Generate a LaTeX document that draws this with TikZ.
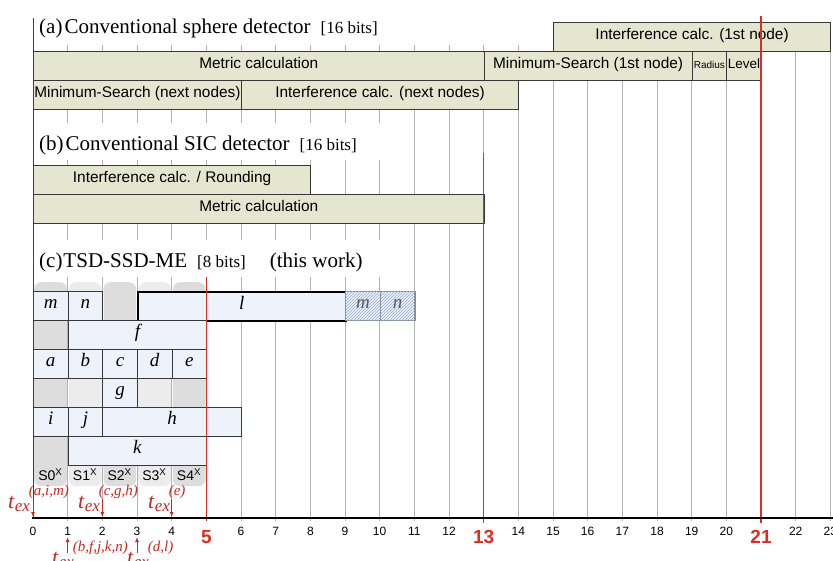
\documentclass[tikz,border=0pt]{standalone}
\usepackage{fontspec}
\setmainfont{Liberation Serif}
\setsansfont{Liberation Sans}
\usetikzlibrary{patterns,arrows.meta}

\definecolor{olivefill}{RGB}{228,230,208}
\definecolor{bluefill}{RGB}{238,242,251}
\definecolor{boxline}{RGB}{55,55,55}
\definecolor{gridgray}{RGB}{178,178,178}
\definecolor{markred}{RGB}{222,45,35}
\definecolor{texred}{RGB}{196,42,38}
\definecolor{coldark}{RGB}{221,221,221}
\definecolor{collight}{RGB}{236,236,236}
\definecolor{hatchblue}{RGB}{150,172,205}
\definecolor{hatchline}{RGB}{140,140,140}

\newcommand{\fsz}[1]{\fontsize{#1}{#1}\selectfont}
% one stage of a schedule: name, style, start, end (time units), top, height, label
\newcommand{\slot}[7]{%
  \node[#2, minimum width={(#4-(#3))*34.6667pt}, minimum height=#6pt,
        anchor=north west] (#1) at ({33+(#3)*34.6667},#5) {#7};}
\newcommand{\texlabel}[1]{\textit{t}\raisebox{-3.5pt}{\fsz{17}\textit{ex}}\hspace{-1pt}\raisebox{12.5pt}{\fsz{15}\textit{(#1)}}}

\begin{document}
\begin{tikzpicture}[x=1pt,y=-1pt,
  stage/.style={draw=boxline, line width=0.8pt, inner sep=0pt,
                text height=1.5ex, text depth=0.3ex},
  olive/.style={stage, fill=olivefill, font=\sffamily\fsz{15.4}},
  tsd/.style={stage, fill=bluefill, font=\itshape\fsz{19}},
  hatched/.style={tsd, draw=hatchline, line width=1.4pt,
                  postaction={pattern=north east lines, pattern color=hatchblue},
                  text=black!65},
  gridline/.style={draw=gridgray, line width=0.8pt},
  redline/.style={draw=markred, line width=1.1pt},
  colbg/.style={draw=none, rounded corners=7pt, inner sep=0pt,
                minimum width=32.7pt, minimum height=204pt},
  texarrow/.style={draw=texred, line width=0.9pt, -{Latex[length=5pt,width=4pt]}},
  texmark/.style={anchor=base west, inner sep=0pt, text=texred, font=\fsz{22}},
  title/.style={anchor=base west, inner sep=0pt, font=\fsz{21}}
]
\useasboundingbox (0,0) rectangle (833,560);
\fill[white] (0,0) rectangle (833,560);

% time grid
\foreach \i in {1,...,23}
  \draw[gridline] ({33+\i*34.6667},45) -- ({33+\i*34.6667},521);

% clear space behind the section titles
\fill[white] (34.5,123) rectangle (404,160);
\fill[white] (34.5,240) rectangle (404,277);

% (a) conventional sphere detector
\node[title] (ta) at (39,33)
  {(a)\hspace{2pt}Conventional sphere detector\hspace{10pt}{\fsz{17}[16 bits]}};
\slot{icf}{olive}{15}{23}{22}{29}{Interference calc. (1st node)}
\slot{mca}{olive}{0}{13}{51}{29}{Metric calculation}
\slot{msf}{olive}{13}{19}{51}{29}{Minimum-Search (1st node)}
\slot{rad}{olive, font=\sffamily\fsz{10}}{19}{20}{51}{29}{Radius}
\slot{lev}{olive, font=\sffamily\fsz{13.5}}{20}{21}{51}{29}{Level}
\slot{msn}{olive}{0}{6}{80}{29}{Minimum-Search (next nodes)}
\slot{icn}{olive}{6}{14}{80}{29}{Interference calc. (next nodes)}

% (b) conventional SIC detector
\node[title] (tb) at (39,150)
  {(b)\hspace{2pt}Conventional SIC detector\hspace{10pt}{\fsz{17}[16 bits]}};
\slot{icr}{olive}{0}{8}{165}{29}{Interference calc. / Rounding}
\slot{mcb}{olive}{0}{13}{194}{29}{Metric calculation}

% (c) TSD-SSD-ME
\node[title] (tc) at (39,267)
  {(c)\hspace{1pt}TSD-SSD-ME\hspace{10pt}{\fsz{17}[8 bits]}\hspace{24pt}(this work)};

\foreach \i/\c in {0/coldark,1/collight,2/coldark,3/collight,4/coldark}
  \node[colbg, fill=\c, anchor=north west] (col\i) at ({34+\i*34.6667},282) {};

\slot{m1}{tsd}{0}{1}{291}{29}{m}
\slot{n1}{tsd}{1}{2}{291}{29}{n}
\slot{l}{tsd, draw=black, line width=1.5pt}{3}{9}{291}{29}{l}
\slot{m2}{hatched}{9}{10}{291}{29}{m}
\slot{n2}{hatched}{10}{11}{291}{29}{n}
\slot{f}{tsd}{1}{5}{320}{29}{f}
\slot{a}{tsd}{0}{1}{349}{29}{a}
\slot{b}{tsd}{1}{2}{349}{29}{b}
\slot{c}{tsd}{2}{3}{349}{29}{c}
\slot{d}{tsd}{3}{4}{349}{29}{d}
\slot{e}{tsd}{4}{5}{349}{29}{e}
\slot{g}{tsd}{2}{3}{378}{29}{g}
\slot{i}{tsd}{0}{1}{407}{29}{i}
\slot{j}{tsd}{1}{2}{407}{29}{j}
\slot{h}{tsd}{2}{6}{407}{29}{h}
\slot{k}{tsd}{1}{5}{436}{29}{k}

\foreach \i in {0,...,4}
  \node[font=\sffamily\fsz{14}, inner sep=0pt] (s\i) at ({33+(\i+0.5)*34.6667},475)
    {S\i\textsuperscript{X}};

% latency markers
\coordinate (r5t) at ({33+5*34.6667},277);
\coordinate (r5b) at ({33+5*34.6667},521);
\coordinate (r13t) at ({33+13*34.6667},153);
\coordinate (r13b) at ({33+13*34.6667},523);
\coordinate (r21t) at ({33+21*34.6667},16);
\coordinate (r21b) at ({33+21*34.6667},523);
\draw[redline] (r5t) -- (r5b);
\draw[redline] (r13t) -- (r13b);
\draw[redline] (r21t) -- (r21b);

% time axis
\coordinate (y0t) at (33,18);
\coordinate (y0b) at (33,518);
\draw[draw=black!75, line width=1pt] (y0t) -- (y0b);
\coordinate (ax0) at (32,518);
\coordinate (ax1) at (833,518);
\draw[line width=1.1pt] (ax0) -- (ax1);

\foreach \i in {0,1,2,3,4,6,7,8,9,10,11,12,14,15,16,17,18,19,20,22,23}
  \node[font=\sffamily\fsz{12}, inner sep=0pt] (tk\i) at ({33+\i*34.6667},531) {\i};
\foreach \i in {5,13,21}
  \node[font=\sffamily\bfseries\fsz{19}, text=markred, inner sep=0pt] (tk\i)
    at ({33+\i*34.6667},537) {\i};

% execution start times
\coordinate (d0s) at (33,499);    \coordinate (d0e) at (33,517);
\coordinate (d2s) at ({33+2*34.6667},499); \coordinate (d2e) at ({33+2*34.6667},517);
\coordinate (d4s) at ({33+4*34.6667},499); \coordinate (d4e) at ({33+4*34.6667},517);
\coordinate (u1s) at ({33+1*34.6667},553); \coordinate (u1e) at ({33+1*34.6667},537);
\coordinate (u3s) at ({33+3*34.6667},553); \coordinate (u3e) at ({33+3*34.6667},537);
\draw[texarrow] (d0s) -- (d0e);
\draw[texarrow] (d2s) -- (d2e);
\draw[texarrow] (d4s) -- (d4e);
\draw[texarrow] (u1s) -- (u1e);
\draw[texarrow] (u3s) -- (u3e);

\node[texmark] (x0) at (8,508) {\texlabel{a,i,m}};
\node[texmark] (x2) at (78,508) {\texlabel{c,g,h}};
\node[texmark] (x4) at (148,508) {\texlabel{e}};
\node[texmark] (x1) at (52,564) {\texlabel{b,f,j,k,n}};
\node[texmark] (x3) at (127,564) {\texlabel{d,l}};
\end{tikzpicture}
\end{document}
